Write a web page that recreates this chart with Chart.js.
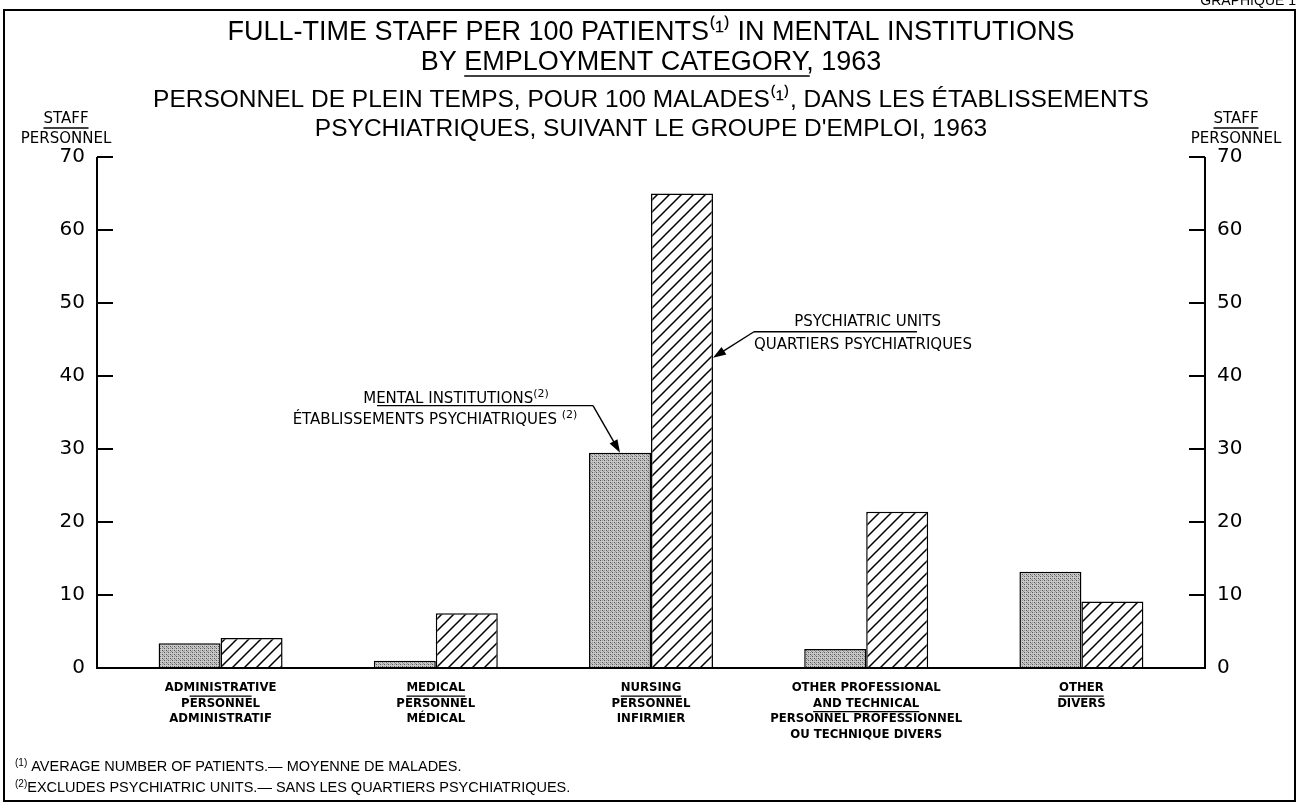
<!DOCTYPE html>
<html>
<head>
<meta charset="utf-8">
<title>Full-time staff per 100 patients in mental institutions, 1963</title>
<script src="https://cdn.jsdelivr.net/npm/chart.js@4.4.1/dist/chart.umd.min.js"></script>
<style>
  html, body { margin: 0; padding: 0; background: #fff; }
  #wrap { width: 1302px; height: 812px; position: relative; }
</style>
</head>
<body>
<div id="wrap"><canvas id="staff-chart"></canvas></div>
<script>
// category labels: english lines first, then the french ones
const categories = [
    ['ADMINISTRATIVE', 'PERSONNEL', 'ADMINISTRATIF'],
    ['MEDICAL', 'PERSONNEL', 'MÉDICAL'],
    ['NURSING', 'PERSONNEL', 'INFIRMIER'],
    ['OTHER PROFESSIONAL', 'AND TECHNICAL', 'PERSONNEL PROFESSIONNEL', 'OU TECHNIQUE DIVERS'],
    ['OTHER', 'DIVERS']
];
const englishLines = [1, 1, 1, 2, 1];

// staff per 100 patients
const mentalInstitutions = [3.4, 1.0, 29.5, 2.6, 13.2];
const psychiatricUnits = [4.1, 7.5, 65.0, 21.4, 9.1];

const yMin = 0;
const yMax = 70;
const yStep = 10;

// value on the nursing psychiatric-units bar where the arrow points
const unitsArrowValue = 42.5;

const titleLines = [
    'FULL-TIME STAFF PER 100 PATIENTS⁽¹⁾ IN MENTAL INSTITUTIONS',
    'BY EMPLOYMENT CATEGORY, 1963'
];
const subtitleLines = [
    'PERSONNEL DE PLEIN TEMPS, POUR 100 MALADES⁽¹⁾, DANS LES ÉTABLISSEMENTS',
    'PSYCHIATRIQUES, SUIVANT LE GROUPE D\'EMPLOI, 1963'
];
// [marker, text]
const footnotes = [
    ['(1)', ' AVERAGE NUMBER OF PATIENTS.— MOYENNE DE MALADES.'],
    ['(2)', 'EXCLUDES PSYCHIATRIC UNITS.— SANS LES QUARTIERS PSYCHIATRIQUES.']
];

const TITLE_FONT = "'Liberation Sans', Arial, sans-serif";
const NARROW_FONT = "'Liberation Sans Narrow', 'DejaVu Sans Condensed', sans-serif";
const PLAIN_FONT = "'DejaVu Sans', sans-serif";

const TITLE_SIZE = 27;
const SUBTITLE_SIZE = 24.5;
const TITLE_LH = 30;
const TITLE_PAD = 8;
const LABEL_PAD = 12;
const LABEL_SIZE = 13;
const LABEL_LH = 1.2;
const TICK_LEN = 16;

function makeStipple() {
    const c = document.createElement('canvas');
    c.width = 4; c.height = 4;
    const g = c.getContext('2d');
    g.fillStyle = '#c8c8c8';
    g.fillRect(0, 0, 4, 4);
    g.fillStyle = '#555';
    g.fillRect(0, 0, 1, 1);
    g.fillRect(2, 2, 1, 1);
    g.fillStyle = '#909090';
    g.fillRect(2, 0, 1, 1);
    g.fillRect(0, 2, 1, 1);
    g.fillRect(3, 3, 1, 1);
    return g.createPattern(c, 'repeat');
}

function makeHatch() {
    const s = 12;
    const c = document.createElement('canvas');
    c.width = s; c.height = s;
    const g = c.getContext('2d');
    g.fillStyle = '#fff';
    g.fillRect(0, 0, s, s);
    g.strokeStyle = '#000';
    g.lineWidth = 1.5;
    g.beginPath();
    g.moveTo(0, s); g.lineTo(s, 0);
    g.moveTo(-2, 2); g.lineTo(2, -2);
    g.moveTo(s - 2, s + 2); g.lineTo(s + 2, s - 2);
    g.stroke();
    return g.createPattern(c, 'repeat');
}

function arrow(ctx, x1, y1, x2, y2) {
    const ang = Math.atan2(y2 - y1, x2 - x1);
    const len = 13, half = 4.5;
    ctx.beginPath();
    ctx.moveTo(x1, y1);
    ctx.lineTo(x2 - Math.cos(ang) * len * 0.8, y2 - Math.sin(ang) * len * 0.8);
    ctx.stroke();
    ctx.beginPath();
    ctx.moveTo(x2, y2);
    ctx.lineTo(x2 - Math.cos(ang) * len - Math.sin(ang) * half, y2 - Math.sin(ang) * len + Math.cos(ang) * half);
    ctx.lineTo(x2 - Math.cos(ang) * len + Math.sin(ang) * half, y2 - Math.sin(ang) * len - Math.cos(ang) * half);
    ctx.closePath();
    ctx.fill();
}

// text with a small raised "(n)" after it (or before it when lead is true)
function textWithMark(ctx, text, mark, x, y, align, size, family, lead) {
    ctx.font = size + 'px ' + family;
    const tw = ctx.measureText(text).width;
    ctx.font = Math.round(size * 0.72) + 'px ' + family;
    const mw = ctx.measureText(mark).width;
    const total = tw + mw;
    let left = x;
    if (align === 'center') left = x - total / 2;
    if (align === 'right') left = x - total;
    ctx.textAlign = 'left';
    if (lead) {
        ctx.fillText(mark, left, y - size * 0.35);
        ctx.font = size + 'px ' + family;
        ctx.fillText(text, left + mw, y);
    } else {
        ctx.fillText(mark, left + tw, y - size * 0.35);
        ctx.font = size + 'px ' + family;
        ctx.fillText(text, left, y);
    }
}

const decor = {
    id: 'decor',
    beforeDraw(chart) {
        const ctx = chart.ctx;
        ctx.save();
        ctx.fillStyle = '#fff';
        ctx.fillRect(0, 0, chart.width, chart.height);
        ctx.restore();
    },
    afterDraw(chart) {
        const ctx = chart.ctx;
        const area = chart.chartArea;
        const y = chart.scales.y;
        const x = chart.scales.x;
        const axL = area.left - TICK_LEN;
        const axR = area.right + TICK_LEN;
        const yTop = y.getPixelForValue(yMax);
        const yZero = y.getPixelForValue(0);

        ctx.save();
        ctx.strokeStyle = '#000';
        ctx.fillStyle = '#000';

        // frame and the clipped figure number
        ctx.lineWidth = 2;
        ctx.strokeRect(4, 10, 1291, 791);
        ctx.font = '14px ' + TITLE_FONT;
        ctx.textAlign = 'right';
        ctx.textBaseline = 'alphabetic';
        ctx.fillText('GRAPHIQUE 1', 1296, 5);

        // axis lines
        ctx.beginPath();
        ctx.moveTo(axL, yTop);
        ctx.lineTo(axL, yZero);
        ctx.lineTo(axR, yZero);
        ctx.lineTo(axR, yTop);
        ctx.stroke();

        // underline in the title
        ctx.font = TITLE_SIZE + 'px ' + TITLE_FONT;
        const t2 = titleLines[1];
        const full = ctx.measureText(t2).width;
        const cx = (chart.titleBlock.left + chart.titleBlock.right) / 2;
        const ux = cx - full / 2 + ctx.measureText('BY ').width;
        const uw = ctx.measureText('EMPLOYMENT CATEGORY').width;
        const uy = chart.titleBlock.top + TITLE_PAD + TITLE_LH * 1.5 + 13;
        ctx.lineWidth = 1.5;
        ctx.beginPath();
        ctx.moveTo(ux, uy);
        ctx.lineTo(ux + uw, uy);
        ctx.stroke();

        // axis captions
        ctx.font = '15px ' + PLAIN_FONT;
        ctx.textAlign = 'center';
        ctx.textBaseline = 'middle';
        [area.left - 47, area.right + 47].forEach(function(px) {
            ctx.fillText('STAFF', px, yTop - 38);
            const sw = ctx.measureText('STAFF').width;
            ctx.beginPath();
            ctx.moveTo(px - sw / 2, yTop - 29);
            ctx.lineTo(px + sw / 2, yTop - 29);
            ctx.stroke();
            ctx.fillText('PERSONNEL', px, yTop - 18);
        });

        // rules between english and french category names
        ctx.font = 'bold ' + LABEL_SIZE + 'px ' + NARROW_FONT;
        const lh = LABEL_SIZE * LABEL_LH;
        ctx.lineWidth = 1.2;
        categories.forEach(function(lines, i) {
            const px = x.getPixelForValue(i);
            const n = englishLines[i];
            let w = ctx.measureText(lines[n - 1]).width;
            if (n === 1) w = Math.min(w, 62);
            const ry = x.top + LABEL_PAD + n * lh + 0.5;
            ctx.beginPath();
            ctx.moveTo(px - w / 2, ry);
            ctx.lineTo(px + w / 2, ry);
            ctx.stroke();
        });

        // annotations
        ctx.lineWidth = 1.4;
        ctx.textBaseline = 'alphabetic';
        const miBar = chart.getDatasetMeta(0).data[2];
        const miTip = { x: miBar.x, y: miBar.y };
        const miElbow = { x: miTip.x - 27, y: miTip.y - 47 };
        ctx.beginPath();
        ctx.moveTo(miElbow.x - 216, miElbow.y);
        ctx.lineTo(miElbow.x, miElbow.y);
        ctx.stroke();
        arrow(ctx, miElbow.x, miElbow.y, miTip.x, miTip.y);
        textWithMark(ctx, 'MENTAL INSTITUTIONS', '(2)', miElbow.x - 137, miElbow.y - 3, 'center', 15, PLAIN_FONT, false);
        textWithMark(ctx, 'ÉTABLISSEMENTS PSYCHIATRIQUES ', '(2)', miElbow.x - 158, miElbow.y + 18, 'center', 15, PLAIN_FONT, false);

        const puBar = chart.getDatasetMeta(1).data[2];
        const puTip = { x: puBar.x + puBar.width / 2, y: y.getPixelForValue(unitsArrowValue) };
        const puElbow = { x: puTip.x + 41, y: puTip.y - 26 };
        ctx.beginPath();
        ctx.moveTo(puElbow.x + 163, puElbow.y);
        ctx.lineTo(puElbow.x, puElbow.y);
        ctx.stroke();
        arrow(ctx, puElbow.x, puElbow.y, puTip.x, puTip.y);
        ctx.font = '15px ' + PLAIN_FONT;
        ctx.textAlign = 'right';
        ctx.fillText('PSYCHIATRIC UNITS', puElbow.x + 187, puElbow.y - 6);
        ctx.textAlign = 'left';
        ctx.fillText('QUARTIERS PSYCHIATRIQUES', puElbow.x, puElbow.y + 17);

        // footnotes
        textWithMark(ctx, footnotes[0][1], footnotes[0][0], 15, 771, 'left', 14.5, TITLE_FONT, true);
        textWithMark(ctx, footnotes[1][1], footnotes[1][0], 15, 792, 'left', 14.5, TITLE_FONT, true);

        ctx.restore();
    }
};

const data = {
    labels: categories,
    datasets: [{
        label: 'Mental institutions',
        data: mentalInstitutions,
        backgroundColor: makeStipple(),
        borderColor: '#000',
        borderWidth: 1.5
    }, {
        label: 'Psychiatric units',
        data: psychiatricUnits,
        backgroundColor: makeHatch(),
        borderColor: '#000',
        borderWidth: 1.5
    }]
};

const yAxisCommon = {
    min: yMin,
    max: yMax,
    border: { display: false },
    grid: {
        drawOnChartArea: false,
        drawTicks: true,
        tickLength: TICK_LEN,
        color: '#000',
        lineWidth: 2
    },
    ticks: {
        stepSize: yStep,
        padding: 12,
        color: '#000',
        font: { family: PLAIN_FONT, size: 20 }
    },
    afterFit: function(scale) { scale.width = 113; }
};

const config = {
    type: 'bar',
    data: data,
    plugins: [decor],
    options: {
        responsive: true,
        maintainAspectRatio: false,
        animation: false,
        layout: { padding: { top: 10, left: 0, right: 0, bottom: 0 } },
        datasets: {
            bar: { barPercentage: 1.0, categoryPercentage: 0.576 }
        },
        scales: {
            x: {
                border: { display: false },
                grid: { display: false, drawTicks: false },
                ticks: {
                    padding: LABEL_PAD,
                    color: '#000',
                    maxRotation: 0,
                    autoSkip: false,
                    font: { family: NARROW_FONT, size: LABEL_SIZE, weight: 'bold', lineHeight: LABEL_LH }
                },
                afterFit: function(scale) { scale.height = 144; }
            },
            y: Object.assign({ position: 'left' }, yAxisCommon),
            y2: Object.assign({ position: 'right' }, yAxisCommon)
        },
        plugins: {
            legend: { display: false },
            tooltip: { enabled: false },
            title: {
                display: true,
                text: titleLines,
                color: '#000',
                font: { family: TITLE_FONT, size: TITLE_SIZE, weight: 'normal', lineHeight: TITLE_LH / TITLE_SIZE },
                padding: { top: TITLE_PAD, bottom: 0 }
            },
            subtitle: {
                display: true,
                text: subtitleLines,
                color: '#000',
                font: { family: TITLE_FONT, size: SUBTITLE_SIZE, weight: 'normal', lineHeight: 29 / SUBTITLE_SIZE },
                padding: { top: 8, bottom: 13 }
            }
        }
    }
};

const staffChart = new Chart(document.getElementById('staff-chart'), config);
</script>
</body>
</html>
